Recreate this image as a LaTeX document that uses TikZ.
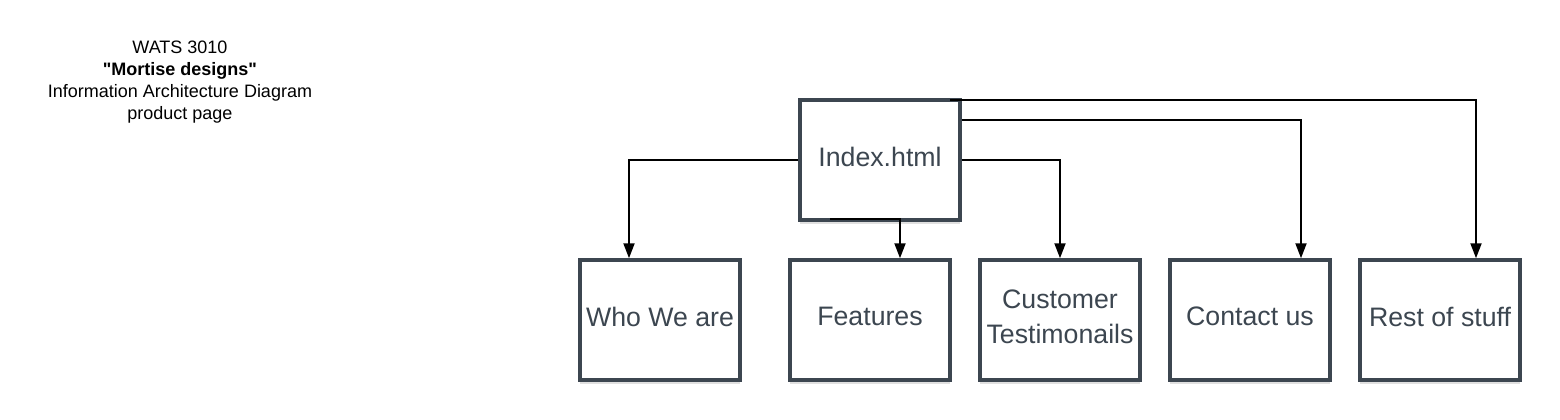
\documentclass[tikz,border=0pt]{standalone}
\usepackage{fontspec}
\setmainfont{Liberation Sans}[Ligatures=TeXOff]
\usetikzlibrary{arrows.meta,shadows}
\definecolor{boxline}{HTML}{3C4650}
\definecolor{boxtext}{HTML}{3C4650}
\tikzset{
  pagebox/.style={draw=boxline, line width=3.5pt, fill=white, minimum width=160pt, minimum height=120pt,
    inner sep=0pt, text=boxtext, align=center, font=\fontsize{26.7}{35}\selectfont, text depth=7pt,
    drop shadow={shadow xshift=0pt, shadow yshift=-4pt, opacity=0.12, fill=black}},
  link/.style={line width=2pt, -{Triangle[length=15pt,width=11pt]}},
}
\begin{document}
\begin{tikzpicture}[x=1pt,y=-1pt]
\useasboundingbox (0,0) rectangle (1560,420);
\node[align=center, font=\fontsize{18}{22}\selectfont] (title) at (180,82.5)
  {WATS 3010\\\textbf{"Mortise designs"}\\Information Architecture Diagram\\product page};
\node[pagebox] (index) at (880,160) {Index.html};
\node[pagebox] (who) at (660,320) {Who We are};
\node[pagebox] (feat) at (870,320) {Features};
\node[pagebox] (cust) at (1060,320) {Customer\\Testimonails};
\node[pagebox] (cont) at (1250,320) {Contact us};
\node[pagebox] (rest) at (1440,320) {Rest of stuff};
\coordinate (fstart) at (830,219);
\coordinate (cstart) at (961.75,120);
\coordinate (rstart) at (950,100);
\draw[link] (index.west) -| ([xshift=-31pt]who.north);
\draw[link] (fstart) -| ([xshift=30pt]feat.north);
\draw[link] (index.east) -| (cust.north);
\draw[link] (cstart) -| ([xshift=51pt]cont.north);
\draw[link] (rstart) -| ([xshift=36pt]rest.north);
\end{tikzpicture}
\end{document}
